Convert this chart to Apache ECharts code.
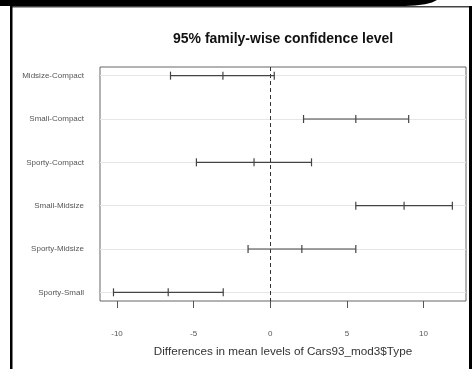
<!DOCTYPE html>
<html>
<head>
<meta charset="utf-8">
<script src="https://cdn.jsdelivr.net/npm/echarts@6/dist/echarts.min.js"></script>
<style>html,body{margin:0;padding:0;background:#fff;}#c{width:474px;height:369px;}</style>
</head>
<body>
<div id="c"></div>
<script>
const comparisons = ['Midsize-Compact','Small-Compact','Sporty-Compact','Small-Midsize','Sporty-Midsize','Sporty-Small'];
const diff = [-3.09, 5.58, -1.06, 8.73, 2.06, -6.66];
const lwr  = [-6.51, 2.17, -4.82, 5.58, -1.45, -10.23];
const upr  = [0.26, 9.03, 2.69, 11.88, 5.58, -3.07];
const xTicks = [-10, -5, 0, 5, 10];
const yPos = comparisons.map((c, i) => i + 1);

const chart = echarts.init(document.getElementById('c'), null, {renderer: 'canvas'});
const font = 'Liberation Sans, Arial, sans-serif';
const rows = comparisons.map((c, i) => [yPos[i], lwr[i], diff[i], upr[i]]);

chart.setOption({
  animation: false,
  backgroundColor: '#fff',
  title: {
    text: '95% family-wise confidence level',
    left: 168, top: 27,
    textStyle: {fontFamily: font, fontSize: 14, fontWeight: 'bold', color: '#111'}
  },
  grid: {left: 100, top: 67, width: 366, height: 234, show: true, borderColor: '#666', borderWidth: 1, backgroundColor: 'transparent'},
  xAxis: {
    type: 'value', min: -11.11, max: 12.77,
    axisLine: {show: false},
    splitLine: {show: false},
    axisTick: {show: true, customValues: xTicks, length: 7, lineStyle: {color: '#555'}},
    axisLabel: {customValues: xTicks, margin: 29, fontFamily: font, fontSize: 8, color: '#555'},
    name: 'Differences in mean levels of Cars93_mod3$Type',
    nameLocation: 'middle', nameGap: 45,
    nameTextStyle: {fontFamily: font, fontSize: 11.7, color: '#333'}
  },
  yAxis: {
    type: 'value', min: 0.8, max: 6.2, inverse: true,
    axisLine: {show: false},
    splitLine: {show: false},
    axisTick: {show: true, customValues: yPos, length: 7, lineStyle: {color: '#444'}},
    axisLabel: {customValues: yPos, margin: 16, fontFamily: font, fontSize: 8, color: '#555',
      formatter: v => comparisons[Math.round(v) - 1] || ''}
  },
  series: [
    {
      type: 'custom',
      data: rows,
      encode: {x: [1, 2, 3], y: 0},
      z: 5,
      renderItem: function (params, api) {
        const y = api.value(0);
        const a = api.coord([api.value(1), y]);
        const m = api.coord([api.value(2), y]);
        const b = api.coord([api.value(3), y]);
        const h = 4;
        const st = {stroke: '#444', lineWidth: 1.2};
        return {type: 'group', children: [
          {type: 'line', shape: {x1: a[0], y1: a[1], x2: b[0], y2: b[1]}, style: st},
          {type: 'line', shape: {x1: a[0], y1: a[1] - h, x2: a[0], y2: a[1] + h}, style: st},
          {type: 'line', shape: {x1: m[0], y1: m[1] - h, x2: m[0], y2: m[1] + h}, style: st},
          {type: 'line', shape: {x1: b[0], y1: b[1] - h, x2: b[0], y2: b[1] + h}, style: st}
        ]};
      },
      markLine: {
        silent: true, symbol: 'none', label: {show: false},
        data: yPos.map(v => ({yAxis: v, lineStyle: {color: '#e6e6e6', width: 1, type: 'solid'}}))
          .concat([{xAxis: 0, lineStyle: {color: '#333', width: 1, type: [4, 3]}}]),
        z: 2
      }
    }
  ],
  graphic: [
    {type: 'polygon', shape: {points: [[0,0],[437,0],[432,2.5],[425,4.3],[415,5.5],[405,6],[0,6]]}, style: {fill: '#000'}, silent: true},
    {type: 'rect', shape: {x: 11, y: 6, width: 460, height: 1.5}, style: {fill: '#444'}, silent: true},
    {type: 'rect', shape: {x: 10, y: 5, width: 2.5, height: 364}, style: {fill: '#000'}, silent: true},
    {type: 'rect', shape: {x: 469, y: 6, width: 3, height: 363}, style: {fill: '#000'}, silent: true}
  ]
});
</script>
</body>
</html>
